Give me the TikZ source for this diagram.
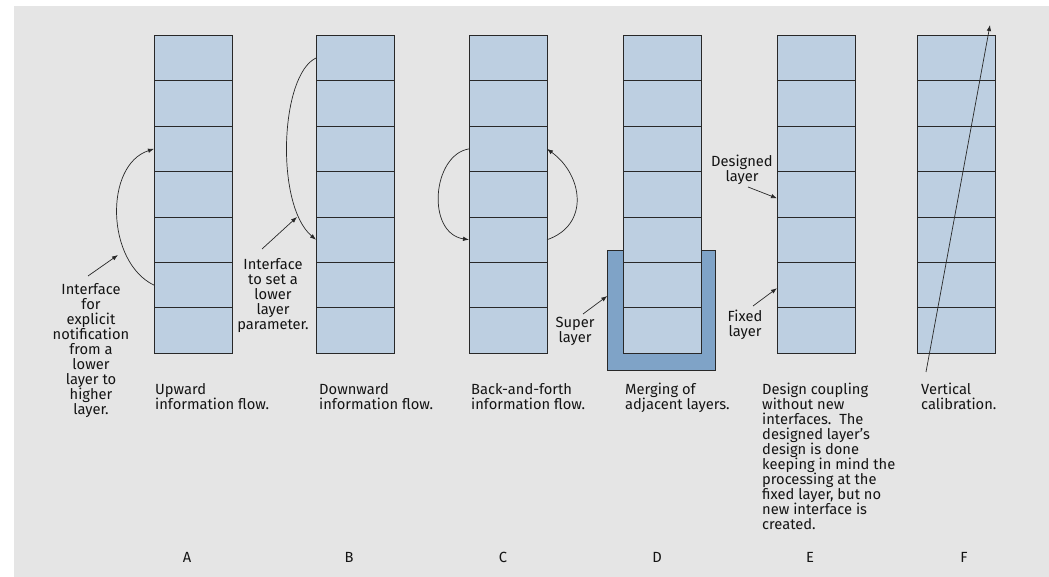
\documentclass[tikz,border=0pt]{standalone}
\usepackage{fontspec}
\setmainfont{Fira Sans}
\usetikzlibrary{arrows.meta}
\definecolor{bg}{RGB}{229,229,229}
\definecolor{cellblue}{RGB}{189,207,225}
\definecolor{superblue}{RGB}{127,163,199}
\definecolor{ink}{RGB}{40,40,40}
\definecolor{textink}{RGB}{20,20,20}
\begin{document}
\begin{tikzpicture}[x=1pt,y=-1pt,
 cell/.style={draw=ink,fill=cellblue,line width=0.9pt,minimum width=78pt,minimum height=45.43pt,inner sep=0pt,outer sep=0pt},
 superbox/.style={draw=ink,fill=superblue,line width=0.9pt,minimum width=108.5pt,minimum height=120pt,inner sep=0pt,outer sep=0pt},
 txt/.style={inner sep=0pt,font=\fontsize{14.7}{15}\selectfont,text=textink},
 flow/.style={draw=ink,line width=0.7pt,-{Latex[length=6pt,width=4.5pt]}}]
\useasboundingbox (0,0) rectangle (1049,577);
\fill[white] (0,0) rectangle (1049,577);
\fill[bg] (14,6) rectangle (1049,577);
\node[superbox] (sup) at (661.5,310) {};
\foreach \n/\x in {A/154,B/316,C/469,D/623.5,E/777,F/917.3}{
  \foreach \i in {1,...,7}{
    \node[cell] (\n\i) at (\x+39, 35.3+45.43*\i-22.715) {};
  }
}
% curves
\draw[flow] (A6.west) .. controls (106,262) and (104,165) .. (A3.west);
\draw[flow] (B1.west) .. controls (280,75) and (275,205) .. (B5.west);
\draw[flow] (C3.west) .. controls (432,155) and (426,233) .. (C5.west);
\draw[flow] (C5.east) .. controls (590,225) and (583,175) .. (C3.east);
% labels
\node[txt,align=center,anchor=north] (la) at (91,283) {Interface\\for\\explicit\\notification\\from a\\lower\\layer to\\higher\\layer.};
\node[txt,align=center,anchor=north] (lb) at (273,258) {Interface\\to set a\\lower\\layer\\parameter.};
\node[txt,align=center,anchor=north] (lsup) at (575,317) {Super\\layer};
\node[txt,align=center,anchor=north] (ldes) at (742,155) {Designed\\layer};
\node[txt,align=center,anchor=north] (lfix) at (745,310) {Fixed\\layer};
\coordinate (pa0) at (88,276); \coordinate (pa1) at (118,255);
\coordinate (pb0) at (262,249); \coordinate (pb1) at (297,217);
\coordinate (ps0) at (583,314);
\coordinate (pd0) at (748,187);
\coordinate (pf0) at (753,306);
\draw[flow] (pa0) -- (pa1);
\draw[flow] (pb0) -- (pb1);
\draw[flow] (ps0) -- ([yshift=14pt]sup.west);
\draw[flow] (pd0) -- ([yshift=-4pt]E4.west);
\draw[flow] (pf0) -- ([yshift=-3pt]E6.west);
\coordinate (f0) at (926,372); \coordinate (f1) at (990,25);
\draw[flow] (f0) -- (f1);
% captions
\node[txt,align=left,anchor=north west] (ca) at (155,383) {Upward\\information flow.};
\node[txt,align=left,anchor=north west] (cb) at (319,383) {Downward\\information flow.};
\node[txt,align=left,anchor=north west] (cc) at (471,383) {Back-and-forth\\information flow.};
\node[txt,align=left,anchor=north west] (cd) at (625,383) {Merging of\\adjacent layers.};
\node[txt,align=left,anchor=north west] (ce) at (762,383) {Design coupling\\without new\\interfaces.\ \ The\\designed layer’s\\design is done\\keeping in mind the\\processing at the\\fixed layer, but no\\new interface is\\created.};
\node[txt,align=left,anchor=north west] (cf) at (921,383) {Vertical\\calibration.};
% letters
\node[txt] (ka) at (187,557) {A};
\node[txt] (kb) at (349,557) {B};
\node[txt] (kc) at (503,557) {C};
\node[txt] (kd) at (657,557) {D};
\node[txt] (ke) at (810,557) {E};
\node[txt] (kf) at (964,557) {F};
\end{tikzpicture}
\end{document}
